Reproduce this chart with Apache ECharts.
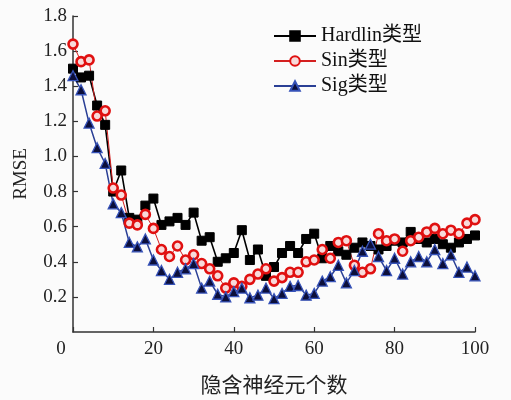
<!DOCTYPE html>
<html>
<head>
<meta charset="utf-8">
<script src="https://cdn.jsdelivr.net/npm/echarts@6/dist/echarts.min.js"></script>
<style>html,body{margin:0;padding:0;background:#fbfbfb;}#c{width:511px;height:400px;}</style>
</head>
<body>
<div id="c"></div>
<script>
const xValues = [0,2,4,6,8,10,12,14,16,18,20,22,24,26,28,30,32,34,36,38,40,42,44,46,48,50,52,54,56,58,60,62,64,66,68,70,72,74,76,78,80,82,84,86,88,90,92,94,96,98,100];
const hardlin = [1.50,1.45,1.46,1.29,1.18,0.80,0.92,0.65,0.64,0.72,0.76,0.61,0.63,0.65,0.61,0.68,0.52,0.54,0.40,0.42,0.45,0.58,0.41,0.47,0.32,0.37,0.45,0.49,0.45,0.53,0.56,0.42,0.49,0.46,0.44,0.48,0.51,0.49,0.47,0.49,0.52,0.51,0.57,0.53,0.51,0.53,0.50,0.48,0.51,0.53,0.55];
const sinV = [1.64,1.54,1.55,1.23,1.26,0.82,0.78,0.62,0.61,0.67,0.59,0.47,0.43,0.49,0.41,0.44,0.39,0.36,0.32,0.25,0.28,0.26,0.30,0.33,0.36,0.29,0.31,0.34,0.34,0.40,0.41,0.47,0.42,0.51,0.52,0.38,0.34,0.36,0.56,0.52,0.53,0.46,0.52,0.54,0.57,0.59,0.56,0.58,0.56,0.62,0.64];
const sigV = [1.46,1.38,1.19,1.05,0.96,0.73,0.68,0.51,0.485,0.53,0.41,0.35,0.30,0.34,0.36,0.39,0.25,0.29,0.215,0.20,0.23,0.25,0.195,0.21,0.25,0.19,0.22,0.26,0.265,0.21,0.22,0.29,0.315,0.38,0.28,0.35,0.46,0.50,0.43,0.35,0.42,0.33,0.40,0.43,0.40,0.47,0.39,0.44,0.34,0.37,0.32];
const seriesNames = ['Hardlin类型','Sin类型','Sig类型'];
const xName = '隐含神经元个数';
const yName = 'RMSE';

const pair = (ys) => xValues.map((x, i) => [x, ys[i]]);
const serif = '"Liberation Serif","Noto Sans CJK SC",serif';
const chart = echarts.init(document.getElementById('c'));
chart.setOption({
  backgroundColor: '#fbfbfb',
  animation: false,
  grid: {left: 73, right: 36, top: 16, bottom: 58},
  legend: {
    orient: 'vertical', left: 268, top: 21, itemGap: 5, itemWidth: 42, itemHeight: 12,
    textStyle: {fontFamily: serif, fontSize: 20, color: '#111'},
    data: seriesNames
  },
  xAxis: {
    type: 'value', min: 0, max: 100, interval: 20,
    name: xName, nameLocation: 'middle', nameGap: 42,
    nameTextStyle: {fontFamily: '"Noto Sans CJK SC",sans-serif', fontSize: 21, color: '#222'},
    axisLine: {lineStyle: {color: '#333', width: 1.5}},
    axisTick: {inside: true, length: 5, lineStyle: {color: '#333', width: 1.2}},
    axisLabel: {
      fontFamily: serif, fontSize: 19, color: '#222', margin: 8,
      formatter: v => v === 0 ? '{o|0}' : String(v),
      rich: {o: {fontFamily: serif, fontSize: 19, color: '#222', padding: [0, 24, 0, 0]}}
    },
    splitLine: {show: false}
  },
  yAxis: {
    type: 'value', min: 0, max: 1.8, interval: 0.2,
    name: yName, nameLocation: 'middle', nameGap: 42, nameRotate: 90,
    nameTextStyle: {fontFamily: serif, fontSize: 19, color: '#222'},
    axisLine: {show: true, lineStyle: {color: '#333', width: 1.5}},
    axisTick: {show: true, inside: true, length: 5, lineStyle: {color: '#333', width: 1.2}},
    axisLabel: {
      fontFamily: serif, fontSize: 19, color: '#222', margin: 6, showMinLabel: false,
      formatter: v => v.toFixed(1)
    },
    splitLine: {show: false}
  },
  series: [
    {
      name: seriesNames[0], type: 'line', data: pair(hardlin),
      symbol: 'rect', symbolSize: 9,
      lineStyle: {color: '#000', width: 1.6},
      itemStyle: {color: '#000', borderColor: '#000', borderWidth: 1}
    },
    {
      name: seriesNames[1], type: 'line', data: pair(sinV),
      symbol: 'circle', symbolSize: 9,
      lineStyle: {color: '#d42020', width: 1},
      itemStyle: {color: '#f8dada', borderColor: '#e01010', borderWidth: 2.6}
    },
    {
      name: seriesNames[2], type: 'line', data: pair(sigV),
      symbol: 'triangle', symbolSize: 10,
      lineStyle: {color: '#2a3f95', width: 1.5},
      itemStyle: {color: '#0c0f3a', borderColor: '#3652b8', borderWidth: 1.3}
    }
  ]
});
</script>
</body>
</html>
